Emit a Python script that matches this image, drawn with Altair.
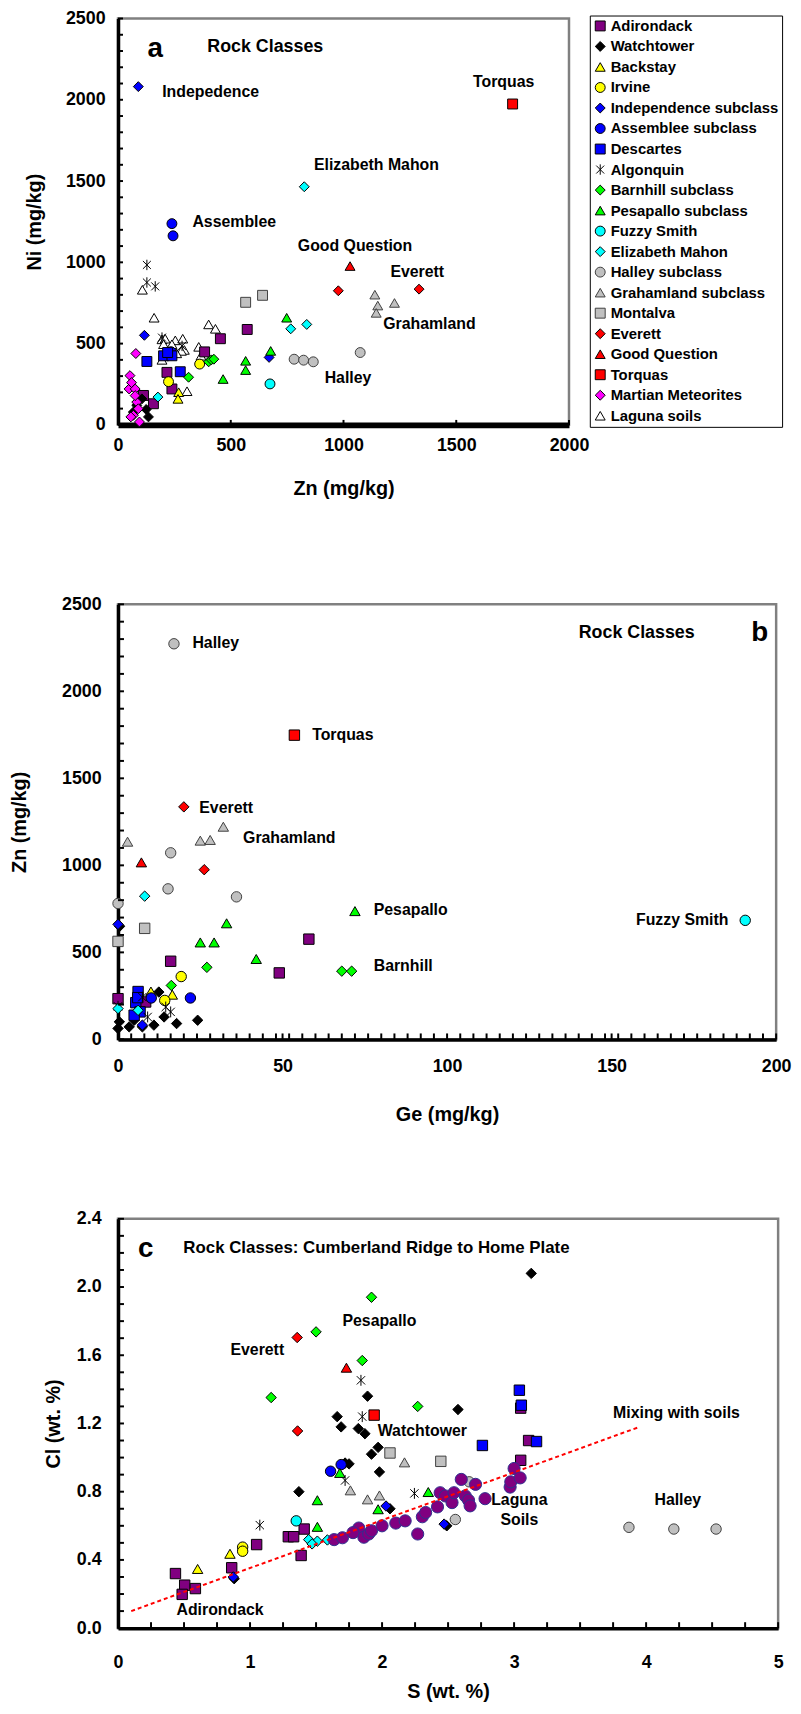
import altair as alt
import pandas as pd

FONT = "Liberation Sans"

CLASSES = ["Adirondack", "Watchtower", "Backstay", "Irvine", "Independence subclass",
           "Assemblee subclass", "Descartes", "Algonquin", "Barnhill subclass",
           "Pesapallo subclass", "Fuzzy Smith", "Elizabeth Mahon", "Halley subclass",
           "Grahamland subclass", "Montalva", "Everett", "Good Question", "Torquas",
           "Martian Meteorites", "Laguna soils"]
FILLS = ["#800080", "#000000", "#ffff00", "#ffff00", "#0000ff", "#0000ff", "#0000ff",
         "#000000", "#00ff00", "#00ff00", "#00ffff", "#00ffff", "#c0c0c0", "#c0c0c0",
         "#c0c0c0", "#ff0000", "#ff0000", "#ff0000", "#ff00ff", "#ffffff"]
STROKES = ["#000000", "#000000", "#000000", "#000000", "#000000", "#000000", "#000000",
           "#000000", "#000000", "#000000", "#000000", "#000000", "#404040", "#404040",
           "#404040", "#000000", "#000000", "#000000", "#000000", "#000000"]
ASTERISK = "M-0.8,-0.8L0.8,0.8M-0.8,0.8L0.8,-0.8M0,-1.05L0,1.05"
SHAPES = ["square", "diamond", "triangle-up", "circle", "diamond", "circle", "square",
          ASTERISK, "diamond", "triangle-up", "circle", "diamond", "circle", "triangle-up",
          "square", "diamond", "triangle-up", "square", "diamond", "triangle-up"]

# ---------------- Panel a: Zn (x) vs Ni (y), mg/kg ----------------
A_ADIRONDACK = [(573, 587), (454, 530), (384, 449), (217, 323), (239, 221), (113, 181), (157, 130)]
A_WATCHTOWER = [(83, 120), (106, 160), (135, 49), (68, 79), (125, 95)]
A_BACKSTAY = [(269, 201), (266, 160)]
A_IRVINE = [(362, 374), (224, 266)]
A_INDEPENDENCE = [(90, 2081), (117, 551), (670, 415)]
A_ASSEMBLEE = [(239, 1238), (244, 1163), (235, 450)]
A_DESCARTES = [(128, 390), (202, 425), (239, 425), (220, 445), (276, 327)]
A_ALGONQUIN = [(128, 984), (128, 876), (165, 852), (195, 537), (284, 486)]
A_BARNHILL = [(402, 388), (414, 400), (425, 404), (313, 293)]
A_PESAPALLO = [(748, 659), (677, 455), (566, 394), (566, 337), (466, 282)]
A_FUZZY = [(674, 252)]
A_ELIZABETH = [(826, 1465), (766, 591), (837, 618), (177, 171)]
A_HALLEY = [(781, 404), (823, 398), (866, 388), (1074, 445)]
A_GRAHAMLAND = [(1139, 801), (1152, 734), (1145, 689), (1226, 750)]
A_MONTALVA = [(566, 754), (641, 797)]
A_EVERETT = [(977, 825), (1335, 835)]
A_GOODQ = [(1029, 977)]
A_TORQUAS = [(1750, 1974)]
A_MARTIAN = [(79, 439), (53, 303), (49, 221), (76, 221), (83, 140), (90, 99), (68, 59),
             (95, 18), (57, 49), (76, 180), (60, 260)]
A_LAGUNA = [(108, 831), (160, 659), (195, 526), (209, 530), (254, 520), (287, 530), (202, 496),
            (239, 496), (294, 461), (281, 455), (206, 435), (195, 400), (358, 480), (368, 425),
            (402, 618), (432, 591), (306, 207), (260, 440)]

# ---------------- Panel b: Ge (x) vs Zn (y), mg/kg ----------------
B_ADIRONDACK = [(58, 576), (16, 449), (49, 382), (0, 234), (8.4, 215)]
B_WATCHTOWER = [(0.5, 650), (12.4, 272), (14, 129), (17.8, 91), (24.2, 110), (10.9, 82),
                (7.4, 72), (3.4, 72), (0.4, 101), (0, 63), (4.9, 110)]
B_BACKSTAY = [(16.5, 257), (10, 275)]
B_IRVINE = [(19.2, 361), (14.2, 224)]
B_INDEPENDENCE = [(0, 661), (7.4, 82)]
B_ASSEMBLEE = [(10.1, 238), (22, 238)]
B_DESCARTES = [(6.1, 275), (5.4, 211), (6.7, 158), (4.9, 139), (6, 240)]
B_ALGONQUIN = [(7.4, 243), (14.5, 186), (16, 158), (9, 129), (0, 190)]
B_BARNHILL = [(27, 414), (68, 392), (71, 392), (16.2, 310)]
B_PESAPALLO = [(33, 667), (25, 557), (29.2, 557), (42, 462), (72, 737)]
B_FUZZY = [(190.6, 684)]
B_ELIZABETH = [(8.1, 823), (0, 177), (6.1, 167)]
B_HALLEY = [(17, 2273), (16, 1072), (15.2, 865), (36, 819), (0, 781)]
B_GRAHAMLAND = [(2.9, 1136), (25, 1142), (28, 1146), (32, 1222)]
B_MONTALVA = [(8.1, 638), (0, 563)]
B_EVERETT = [(20, 1336), (26.2, 975)]
B_GOODQ = [(7.1, 1017)]
B_TORQUAS = [(53.6, 1748)]

# ---------------- Panel c: S (x) vs Cl (y), wt. % ----------------
C_ADIRONDACK = [(1.41, 0.581), (1.29, 0.536), (1.33, 0.536), (1.387, 0.426), (1.05, 0.49),
                (0.861, 0.354), (0.435, 0.32), (0.505, 0.252), (0.586, 0.232), (0.486, 0.198),
                (3.11, 1.10), (3.05, 0.984), (3.05, 1.29)]
C_WATCHTOWER = [(3.13, 2.08), (1.89, 1.36), (2.575, 1.282), (1.66, 1.24), (1.69, 1.18),
                (1.82, 1.17), (1.87, 1.14), (1.97, 1.06), (1.92, 1.02), (1.98, 0.916),
                (1.75, 0.963), (1.37, 0.80), (1.72, 0.968), (2.06, 0.70), (2.49, 0.60), (0.88, 0.29)]
C_BACKSTAY = [(0.848, 0.436), (0.603, 0.347)]
C_IRVINE = [(0.944, 0.475), (0.944, 0.451)]
C_INDEPENDENCE = [(2.03, 0.716), (2.47, 0.61), (0.873, 0.30)]
C_ASSEMBLEE = [(1.61, 0.92), (1.69, 0.959)]
C_DESCARTES = [(3.04, 1.395), (3.055, 1.307), (3.17, 1.094), (2.76, 1.071)]
C_ALGONQUIN = [(1.84, 1.453), (1.85, 1.24), (1.72, 0.866), (2.245, 0.79), (1.074, 0.604)]
C_BARNHILL = [(1.50, 1.737), (1.16, 1.352), (1.92, 1.94), (1.85, 1.569), (2.27, 1.30)]
C_PESAPALLO = [(1.68, 0.91), (1.51, 0.75), (1.51, 0.594), (2.35, 0.798), (1.97, 0.697)]
C_FUZZY = [(1.35, 0.629)]
C_ELIZABETH = [(1.444, 0.519), (1.51, 0.51), (1.47, 0.494), (1.586, 0.517)]
C_HALLEY = [(2.555, 0.637), (2.66, 0.858), (3.87, 0.591), (4.21, 0.581), (4.53, 0.581)]
C_GRAHAMLAND = [(1.76, 0.808), (1.89, 0.755), (1.98, 0.778), (2.17, 0.972)]
C_MONTALVA = [(2.06, 1.027), (2.445, 0.978)]
C_EVERETT = [(1.357, 1.704), (1.36, 1.156)]
C_GOODQ = [(1.73, 1.527)]
C_TORQUAS = [(1.94, 1.249)]
C_LAGUNA = [(1.637, 0.519), (1.824, 0.587), (1.862, 0.533), (1.899, 0.552), (1.92, 0.571),
            (2.0, 0.60), (2.104, 0.616), (2.175, 0.629), (2.27, 0.552), (2.305, 0.653),
            (2.33, 0.678), (2.42, 0.711), (2.44, 0.794), (2.48, 0.775), (2.53, 0.736),
            (2.545, 0.794), (2.60, 0.872), (2.63, 0.775), (2.655, 0.75), (2.667, 0.717),
            (2.708, 0.843), (2.78, 0.759), (2.97, 0.827), (2.975, 0.858), (3.0, 0.936),
            (3.046, 0.881), (1.70, 0.53), (1.78, 0.56)]
MIX_S = [0.1, 3.95]
MIX_CL = [0.10, 1.18]

# ---------------- Axis tick labels and annotations ----------------
A_XLABELS = [0, 500, 1000, 1500, 2000]
A_YLABELS = [0, 500, 1000, 1500, 2000, 2500]
A_XTICKS = [0, 500, 1000, 1500, 2000]
A_YTICKS = list(range(0, 2501, 100))
B_XLABELS = [0, 50, 100, 150, 200]
B_YLABELS = [0, 500, 1000, 1500, 2000, 2500]
B_XTICKS = [i * 4 for i in range(51)] + [50, 150]
B_YTICKS = list(range(0, 2501, 100))
C_XLABELS = [0, 1, 2, 3, 4, 5]
C_YLABELS = [0.0, 0.4, 0.8, 1.2, 1.6, 2.0, 2.4]
C_XTICKS = [i * 0.25 for i in range(21)]
C_YTICKS = [i * 0.1 for i in range(25)]

A_LETTER = ("a", 165, 2311)
A_TITLE = ("Rock Classes", 396, 2323)
A_NOTES_LEFT = ["Indepedence", "Elizabeth Mahon", "Assemblee"]
A_NOTES_LEFT_X = [196, 869, 330]
A_NOTES_LEFT_Y = [2049, 1598, 1250]
A_NOTES_MID = ["Torquas", "Good Question", "Everett", "Grahamland", "Halley"]
A_NOTES_MID_X = [1710, 1051, 1327, 1381, 1020]
A_NOTES_MID_Y = [2110, 1100, 939, 622, 287]

B_LETTER = ("b", 195, 2332)
B_TITLE = ("Rock Classes", 140, 2332)
B_NOTES_LEFT = ["Halley", "Torquas", "Everett", "Grahamland", "Pesapallo", "Barnhill"]
B_NOTES_LEFT_X = [22.6, 59, 24.7, 38, 77.7, 77.7]
B_NOTES_LEFT_Y = [2280, 1750, 1328, 1157, 741, 422]
B_NOTES_RIGHT = ["Fuzzy Smith"]
B_NOTES_RIGHT_X = [185.5]
B_NOTES_RIGHT_Y = [684]

C_LETTER = ("c", 0.21, 2.225)
C_TITLE = ("Rock Classes: Cumberland Ridge to Home Plate", 0.495, 2.231)
C_NOTES_MID = ["Pesapallo", "Everett", "Watchtower", "Mixing with soils", "Laguna", "Soils",
               "Halley", "Adirondack"]
C_NOTES_MID_X = [1.98, 1.055, 2.305, 4.23, 3.04, 3.04, 4.24, 0.773]
C_NOTES_MID_Y = [1.80, 1.633, 1.156, 1.261, 0.75, 0.633, 0.75, 0.105]


def frame(series, classes):
    rows = []
    for cls, pts in zip(classes, series):
        for x, y in pts:
            rows.append({"x": x, "y": y, "cls": cls})
    return pd.DataFrame(rows)


def sc(dom):
    return alt.Scale(domain=dom, nice=False, zero=False)


def text_layer(labels, xs, ys, xdom, ydom, size=16, align="left"):
    df = pd.DataFrame({"x": xs, "y": ys, "t": labels})
    return alt.Chart(df).mark_text(font=FONT, fontWeight="bold", fontSize=size, align=align,
                                   baseline="middle", color="black").encode(
        x=alt.X("x:Q", scale=sc(xdom)),
        y=alt.Y("y:Q", scale=sc(ydom)),
        text="t:N")


def tick_layers(xt, yt, xdom, ydom, H, length):
    ty = alt.Chart(pd.DataFrame({"y": yt})).mark_rule(color="black", strokeWidth=2).encode(
        y=alt.Y("y:Q", scale=sc(ydom)), x=alt.value(0), x2=alt.value(length))
    tx = alt.Chart(pd.DataFrame({"x": xt})).mark_rule(color="black", strokeWidth=2).encode(
        x=alt.X("x:Q", scale=sc(xdom)), y=alt.value(H), y2=alt.value(H - length))
    return [ty, tx]


def axis(values, title, tx, ty, lpad, fmt="d", dw=3.5):
    return alt.Axis(values=values, title=title, titleX=tx, titleY=ty, titleBaseline="middle",
                    labelPadding=lpad, domainWidth=dw, format=fmt)


# ---------------- Panel a ----------------
WA, HA = 455, 410
XA, YA = [0, 2000], [0, 2500]
a_series = [A_ADIRONDACK, A_WATCHTOWER, A_BACKSTAY, A_IRVINE, A_INDEPENDENCE, A_ASSEMBLEE,
            A_DESCARTES, A_ALGONQUIN, A_BARNHILL, A_PESAPALLO, A_FUZZY, A_ELIZABETH, A_HALLEY,
            A_GRAHAMLAND, A_MONTALVA, A_EVERETT, A_GOODQ, A_TORQUAS, A_MARTIAN, A_LAGUNA]
df_a = frame(a_series, CLASSES)
df_a["ord"] = [0 if c == "Laguna soils" else 1 for c in df_a["cls"]]
df_a = df_a.sort_values("ord", kind="stable")

leg = alt.Legend(title=None, orient="none", legendX=476, legendY=-3, symbolSize=100,
                 symbolStrokeWidth=1, labelFont=FONT, labelFontSize=15, labelFontWeight="bold",
                 labelColor="black", padding=3, rowPadding=4.7, strokeColor="black",
                 fillColor="white", labelLimit=300, labelOffset=3)

a_pts = alt.Chart(df_a).mark_point(filled=True, size=100, strokeWidth=1, opacity=1).encode(
    x=alt.X("x:Q", scale=sc(XA), axis=axis(A_XLABELS, "Zn (mg/kg)", WA / 2, 64, 12, dw=6)),
    y=alt.Y("y:Q", scale=sc(YA), axis=axis(A_YLABELS, "Ni (mg/kg)", -84, HA / 2, 13)),
    fill=alt.Fill("cls:N", scale=alt.Scale(domain=CLASSES, range=FILLS), legend=leg),
    stroke=alt.Stroke("cls:N", scale=alt.Scale(domain=CLASSES, range=STROKES), legend=leg),
    shape=alt.Shape("cls:N", scale=alt.Scale(domain=CLASSES, range=SHAPES), legend=leg),
)
panel_a = alt.layer(
    a_pts,
    *tick_layers(A_XTICKS, A_YTICKS, XA, YA, HA, 5),
    text_layer([A_LETTER[0]], [A_LETTER[1]], [A_LETTER[2]], XA, YA, 28, "center"),
    text_layer([A_TITLE[0]], [A_TITLE[1]], [A_TITLE[2]], XA, YA, 18, "left"),
    text_layer(A_NOTES_LEFT, A_NOTES_LEFT_X, A_NOTES_LEFT_Y, XA, YA, 16, "left"),
    text_layer(A_NOTES_MID, A_NOTES_MID_X, A_NOTES_MID_Y, XA, YA, 16, "center"),
).properties(width=WA, height=HA)

# ---------------- Panel b ----------------
WB, HB = 664, 439
XB, YB = [0, 200], [0, 2500]
b_series = [B_ADIRONDACK, B_WATCHTOWER, B_BACKSTAY, B_IRVINE, B_INDEPENDENCE, B_ASSEMBLEE,
            B_DESCARTES, B_ALGONQUIN, B_BARNHILL, B_PESAPALLO, B_FUZZY, B_ELIZABETH, B_HALLEY,
            B_GRAHAMLAND, B_MONTALVA, B_EVERETT, B_GOODQ, B_TORQUAS]
df_b = frame(b_series, CLASSES[:18])
b_pts = alt.Chart(df_b).mark_point(filled=True, size=110, strokeWidth=1, opacity=1).encode(
    x=alt.X("x:Q", scale=sc(XB), axis=axis(B_XLABELS, "Ge (mg/kg)", WB / 2, 76, 18)),
    y=alt.Y("y:Q", scale=sc(YB), axis=axis(B_YLABELS, "Zn (mg/kg)", -99, HB / 2, 17)),
    fill=alt.Fill("cls:N", scale=alt.Scale(domain=CLASSES, range=FILLS), legend=None),
    stroke=alt.Stroke("cls:N", scale=alt.Scale(domain=CLASSES, range=STROKES), legend=None),
    shape=alt.Shape("cls:N", scale=alt.Scale(domain=CLASSES, range=SHAPES), legend=None),
)
panel_b = alt.layer(
    b_pts,
    *tick_layers(B_XTICKS, B_YTICKS, XB, YB, HB, 6),
    text_layer([B_LETTER[0]], [B_LETTER[1]], [B_LETTER[2]], XB, YB, 28, "center"),
    text_layer([B_TITLE[0]], [B_TITLE[1]], [B_TITLE[2]], XB, YB, 18, "left"),
    text_layer(B_NOTES_LEFT, B_NOTES_LEFT_X, B_NOTES_LEFT_Y, XB, YB, 16, "left"),
    text_layer(B_NOTES_RIGHT, B_NOTES_RIGHT_X, B_NOTES_RIGHT_Y, XB, YB, 16, "right"),
).properties(width=WB, height=HB)

# ---------------- Panel c ----------------
WC, HC = 666, 413
XC, YC = [0, 5], [0, 2.4]
c_series = [C_ADIRONDACK, C_WATCHTOWER, C_BACKSTAY, C_IRVINE, C_INDEPENDENCE, C_ASSEMBLEE,
            C_DESCARTES, C_ALGONQUIN, C_BARNHILL, C_PESAPALLO, C_FUZZY, C_ELIZABETH, C_HALLEY,
            C_GRAHAMLAND, C_MONTALVA, C_EVERETT, C_GOODQ, C_TORQUAS]
df_c = frame(c_series, CLASSES[:18])
c_pts = alt.Chart(df_c).mark_point(filled=True, size=110, strokeWidth=1, opacity=1).encode(
    x=alt.X("x:Q", scale=sc(XC), axis=axis(C_XLABELS, "S (wt. %)", WC / 2, 64, 26)),
    y=alt.Y("y:Q", scale=sc(YC), axis=axis(C_YLABELS, "Cl (wt. %)", -65, HC / 2, 17, fmt=".1f")),
    fill=alt.Fill("cls:N", scale=alt.Scale(domain=CLASSES, range=FILLS), legend=None),
    stroke=alt.Stroke("cls:N", scale=alt.Scale(domain=CLASSES, range=STROKES), legend=None),
    shape=alt.Shape("cls:N", scale=alt.Scale(domain=CLASSES, range=SHAPES), legend=None),
)
df_lag = pd.DataFrame({"x": [p[0] for p in C_LAGUNA], "y": [p[1] for p in C_LAGUNA]})
c_lag = alt.Chart(df_lag).mark_point(filled=True, shape="circle", size=150, fill="#800080",
                                     stroke="#30308f", strokeWidth=1, opacity=1).encode(
    x=alt.X("x:Q", scale=sc(XC)), y=alt.Y("y:Q", scale=sc(YC)))
df_mix = pd.DataFrame({"x": MIX_S, "y": MIX_CL})
c_mix = alt.Chart(df_mix).mark_line(color="#ff0000", strokeDash=[4, 3], strokeWidth=2).encode(
    x=alt.X("x:Q", scale=sc(XC)), y=alt.Y("y:Q", scale=sc(YC)))
panel_c = alt.layer(
    c_pts, c_lag, c_mix,
    *tick_layers(C_XTICKS, C_YTICKS, XC, YC, HC, 6),
    text_layer([C_LETTER[0]], [C_LETTER[1]], [C_LETTER[2]], XC, YC, 28, "center"),
    text_layer([C_TITLE[0]], [C_TITLE[1]], [C_TITLE[2]], XC, YC, 17, "left"),
    text_layer(C_NOTES_MID, C_NOTES_MID_X, C_NOTES_MID_Y, XC, YC, 16, "center"),
).properties(width=WC, height=HC)

chart = alt.vconcat(panel_a, panel_b, panel_c, spacing=181, bounds="flush").properties(
    padding={"left": 0, "top": -8, "right": 0, "bottom": 0}
).configure(font=FONT).configure_view(
    stroke="#808080", strokeWidth=2.5
).configure_axis(
    labelFont=FONT, titleFont=FONT, labelFontSize=18, labelFontWeight="bold",
    titleFontSize=20, titleFontWeight="bold", labelColor="black", titleColor="black",
    ticks=False, grid=False, domainColor="black", labelFlush=False, labelOverlap=False
)

chart.save("out.html", embed_options={"renderer": "svg", "actions": False})
